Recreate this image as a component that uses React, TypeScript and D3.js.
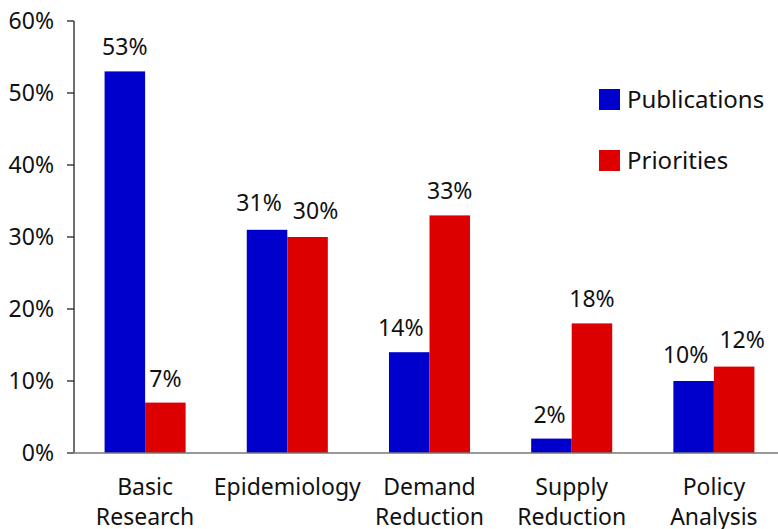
import React from "react";
import * as d3 from "d3";

const categories: string[][] = [
  ["Basic", "Research"],
  ["Epidemiology"],
  ["Demand", "Reduction"],
  ["Supply", "Reduction"],
  ["Policy", "Analysis"],
];
const seriesNames = ["Publications", "Priorities"];
const publications = [53, 31, 14, 2, 10];
const priorities = [7, 30, 33, 18, 12];
const yTicks = [0, 10, 20, 30, 40, 50, 60];
const colors = ["#0000cc", "#dd0000"];

export default function App() {
  const W = 778;
  const H = 529;
  const font = "'Noto Sans', 'Open Sans', sans-serif";
  const fs = 23;
  const keys = categories.map((c) => c.join(" "));
  const x = d3
    .scaleBand<string>()
    .domain(keys)
    .range([74, 785])
    .paddingInner(0.43)
    .paddingOuter(0.215);
  const y = d3.scaleLinear().domain([0, 60]).range([453, 21]);
  const bw = x.bandwidth() / 2;
  const series = [publications, priorities];
  const labelW = (v: number) => String(v).length * 0.572 * fs + 0.83 * fs;

  return (
    <svg
      width={W}
      height={H}
      style={{ position: "absolute", left: 0, top: 0 }}
      fontFamily={font}
    >
      <rect width={W} height={H} fill="#fff" />
      {/* bars */}
      {series.map((vals, si) =>
        vals.map((v, i) => {
          const bx = x(keys[i]) as number;
          const x0 = bx + si * bw;
          const cx = x0 + bw / 2;
          const other = series[1 - si][i];
          const clash = Math.abs(y(v) - y(other)) < 22;
          let dx = 0;
          if (clash) {
            dx = si === 0 ? -8 : 8;
          } else if (si === 0 && other > v) {
            dx = Math.min(0, bx + bw - 6 - (cx + labelW(v) / 2));
          } else if (si === 1 && other > v) {
            dx = Math.max(0, bx + bw + 4 - (cx - labelW(v) / 2));
          }
          const off = clash ? 18.5 : 16;
          return (
            <g key={`${si}-${i}`}>
              <rect
                x={x0}
                y={y(v)}
                width={bw}
                height={y(0) - y(v)}
                fill={colors[si]}
              />
              <text
                x={cx + dx}
                y={y(v) - off}
                textAnchor="middle"
                fontSize={fs}
                fill="#111"
              >
                {v}%
              </text>
            </g>
          );
        })
      )}
      {/* y axis */}
      <line x1={74} x2={74} y1={y(60)} y2={y(0)} stroke="#222" strokeWidth={1.3} />
      {yTicks.map((t) => (
        <g key={t}>
          <line x1={67} x2={74} y1={y(t)} y2={y(t)} stroke="#222" strokeWidth={1.3} />
          <text x={54} y={y(t) + 8} textAnchor="end" fontSize={fs} fill="#111">
            {t}%
          </text>
        </g>
      ))}
      {/* baseline */}
      <line x1={67} x2={W} y1={y(0)} y2={y(0)} stroke="#777" strokeWidth={1.5} />
      {/* category labels */}
      {categories.map((lines, i) => {
        const cx = (x(keys[i]) as number) + x.bandwidth() / 2;
        return (
          <text key={i} textAnchor="middle" fontSize={fs} fill="#111">
            {lines.map((l, j) => (
              <tspan key={j} x={cx} y={495 + j * 29.5}>
                {l}
              </tspan>
            ))}
          </text>
        );
      })}
      {/* legend */}
      {seriesNames.map((n, i) => (
        <g key={n} transform={`translate(599, ${89 + i * 61})`}>
          <rect width={21} height={21} fill={colors[i]} />
          <text x={28} y={19} fontSize={24} fill="#111">
            {n}
          </text>
        </g>
      ))}
    </svg>
  );
}
